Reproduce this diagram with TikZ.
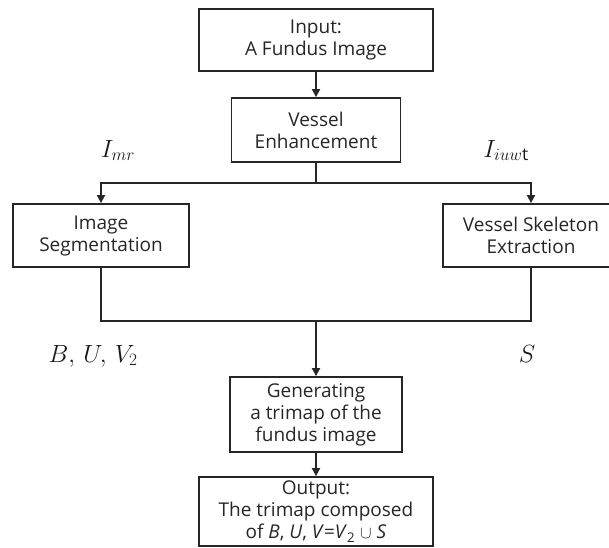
\documentclass[tikz,border=0pt]{standalone}
\usepackage{fontspec}
\setmainfont{Open Sans}
\usetikzlibrary{arrows.meta}
\begin{document}
\begin{tikzpicture}[x=1pt,y=-1pt,
  box/.style={draw=black!85, line width=1.8pt, align=center, inner sep=0pt,
    font=\fontsize{19}{22}\selectfont, text=black!85},
  conn/.style={draw=black!85, line width=1.8pt},
  arr/.style={conn, -{Triangle[length=8pt,width=8pt]}},
  lab/.style={font=\fontsize{25}{30}\selectfont, anchor=base, inner sep=0pt, text=black!90}]
\useasboundingbox (0,0) rectangle (609,547);
\node[box, minimum width=234pt, minimum height=62pt] (inp) at (316,40) {Input:\\A Fundus Image};
\node[box, minimum width=169pt, minimum height=64pt] (enh) at (316,130) {Vessel\\Enhancement};
\node[box, minimum width=176pt, minimum height=63pt] (seg) at (101,235.5) {Image\\Segmentation};
\node[box, minimum width=176pt, minimum height=63pt] (skel) at (531,235.5) {Vessel Skeleton\\Extraction};
\node[box, minimum width=172pt, minimum height=75pt] (gen) at (316,414.5) {Generating\\a trimap of the\\fundus image};
\node[box, minimum width=234pt, minimum height=69pt] (out) at (316,511.5) {Output:\\The trimap composed\\of \textit{B}, \textit{U}, \textit{V}=\textit{V}\textsubscript{2} $\cup$ \textit{S}};
\coordinate (bt) at (316,183);
\coordinate (bl) at (101,183);
\coordinate (br) at (531,183);
\coordinate (ml) at (101,321);
\coordinate (mc) at (316,321);
\coordinate (mr) at (531,321);
\draw[arr] (inp) -- (enh);
\draw[conn] (enh) -- (bt);
\draw[arr] (bt) -- (bl) -- (seg);
\draw[arr] (bt) -- (br) -- (skel);
\draw[conn] (seg) -- (ml) -- (mr) -- (skel);
\draw[arr] (mc) -- (gen);
\draw[arr] (gen) -- (out);
\node[lab] (imr) at (118,157) {$I_{mr}$};
\node[lab] (iuwt) at (506,157) {$I_{iuw\mathrm{t}}$};
\node[lab] (buv) at (93,362) {$B,\,U,\,V_2$};
\node[lab] (s) at (527,362) {$S$};
\end{tikzpicture}
\end{document}
